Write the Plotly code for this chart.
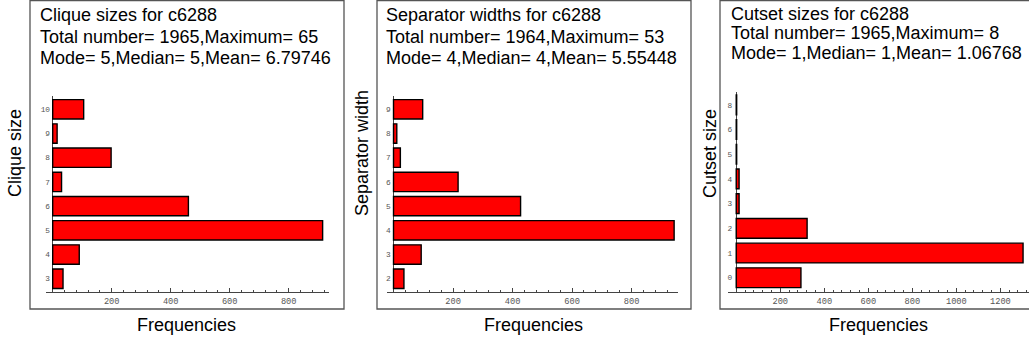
import plotly.graph_objects as go

W, H = 1029, 343

# ---------------- data ----------------
clique_sizes = ["3", "4", "5", "6", "7", "8", "9", "10"]
clique_freq = [35, 90, 915, 460, 30, 198, 15, 105]

sep_widths = ["2", "3", "4", "5", "6", "7", "8", "9"]
sep_freq = [35, 93, 943, 427, 217, 23, 11, 98]

cutset_sizes = ["0", "1", "2", "3", "4", "5", "6", "8"]
cutset_freq = [294, 1303, 322, 13, 13, 2, 2, 2]

titles = [
    ["Clique sizes for c6288", "Total number= 1965,Maximum= 65", "Mode= 5,Median= 5,Mean= 6.79746"],
    ["Separator widths for c6288", "Total number= 1964,Maximum= 53", "Mode= 4,Median= 4,Mean= 5.55448"],
    ["Cutset sizes for c6288", "Total number= 1965,Maximum= 8", "Mode= 1,Median= 1,Mean= 1.06768"],
]
ylabels = ["Clique size", "Separator width", "Cutset size"]
xlabel = "Frequencies"
xticks = [
    [200, 400, 600, 800],
    [200, 400, 600, 800],
    [200, 400, 600, 800, 1000, 1200],
]

# ---------------- layout helpers ----------------
def px(x):
    return x / W

def py(y):
    return 1 - y / H

panels = [
    dict(cats=clique_sizes, vals=clique_freq, xr=[-22.7, 937.6], xd=[46, 329.3], yd=[292.3, 96], yr=[-0.56, 7.55],
         frame=[30, 344], text_x=37.7, text_y=[15, 36.7, 58], ylab=(15, 153), xlab=(186.7, 325)),
    dict(cats=sep_widths, vals=sep_freq, xr=[-22.9, 956], xd=[386.7, 678], yd=[292.3, 96], yr=[-0.56, 7.55],
         frame=[377, 691], text_x=383.5, text_y=[15, 36.7, 58], ylab=(362, 153), xlab=(533, 325)),
    dict(cats=cutset_sizes, vals=cutset_freq, xr=[-36, 1330], xd=[728.3, 1029], yd=[292.3, 92], yr=[-0.59, 7.52],
         frame=[720, 1040], text_x=729.3, text_y=[14, 33.3, 53.3], ylab=(710, 154), xlab=(878, 325)),
]

fig = go.Figure()
annotations = []
shapes = []
axis_color = "#444444"
tick_font = dict(family="Liberation Mono, DejaVu Sans Mono, monospace", size=8.7, color="#555555")

for i, p in enumerate(panels):
    n = "" if i == 0 else str(i + 1)
    xa, ya = "x" + n, "y" + n
    fig.add_trace(go.Bar(
        x=p["vals"], y=p["cats"], orientation="h",
        marker=dict(color="#FF0000", line=dict(color="#000000", width=1.4)),
        width=0.8, xaxis=xa, yaxis=ya, showlegend=False,
    ))
    fig.layout["xaxis" + n] = dict(
        domain=[px(p["xd"][0]), px(p["xd"][1])], range=p["xr"], anchor=ya,
        showgrid=False, zeroline=True, zerolinecolor=axis_color, zerolinewidth=1,
        showline=True, linecolor=axis_color, linewidth=1,
        ticks="inside", ticklen=4, tickcolor=axis_color, tickwidth=1,
        tickvals=xticks[i], ticktext=[str(t) for t in xticks[i]],
        minor=dict(dtick=40, tick0=0, ticks="inside", ticklen=2, tickcolor=axis_color, showgrid=False),
        tickfont=tick_font, fixedrange=True,
    )
    fig.layout["yaxis" + n] = dict(
        domain=[py(p["yd"][0]), py(p["yd"][1])], range=p["yr"], anchor=xa,
        type="category", categoryorder="array", categoryarray=p["cats"],
        showgrid=False, zeroline=False, showline=False, ticks="",
        ticklabelstandoff=-5,
        tickfont=dict(family="Liberation Mono, DejaVu Sans Mono, monospace", size=7.8, color="#555555"),
        fixedrange=True,
    )
    # frame
    shapes.append(dict(type="rect", xref="paper", yref="paper",
                       x0=px(p["frame"][0]), x1=px(p["frame"][1]), y0=py(309), y1=py(0.6),
                       line=dict(color="#555555", width=1.3), fillcolor="rgba(0,0,0,0)", layer="below"))
    # titles
    for j, line in enumerate(titles[i]):
        annotations.append(dict(text=line, xref="paper", yref="paper", x=px(p["text_x"]), y=py(p["text_y"][j]),
                                xanchor="left", yanchor="middle", showarrow=False,
                                font=dict(family="Liberation Sans, Arial, sans-serif", size=18, color="#000000")))
    annotations.append(dict(text=ylabels[i], xref="paper", yref="paper", x=px(p["ylab"][0]), y=py(p["ylab"][1]),
                            xanchor="center", yanchor="middle", textangle=-90, showarrow=False,
                            font=dict(family="Liberation Sans, Arial, sans-serif", size=18, color="#000000")))
    annotations.append(dict(text=xlabel, xref="paper", yref="paper", x=px(p["xlab"][0]), y=py(p["xlab"][1]),
                            xanchor="center", yanchor="middle", showarrow=False,
                            font=dict(family="Liberation Sans, Arial, sans-serif", size=18, color="#000000")))

fig.update_layout(
    width=W, height=H, margin=dict(l=0, r=0, t=0, b=0),
    paper_bgcolor="white", plot_bgcolor="white",
    annotations=annotations, shapes=shapes, bargap=0.2,
)

fig.write_html("out.html", config={"displayModeBar": False})
